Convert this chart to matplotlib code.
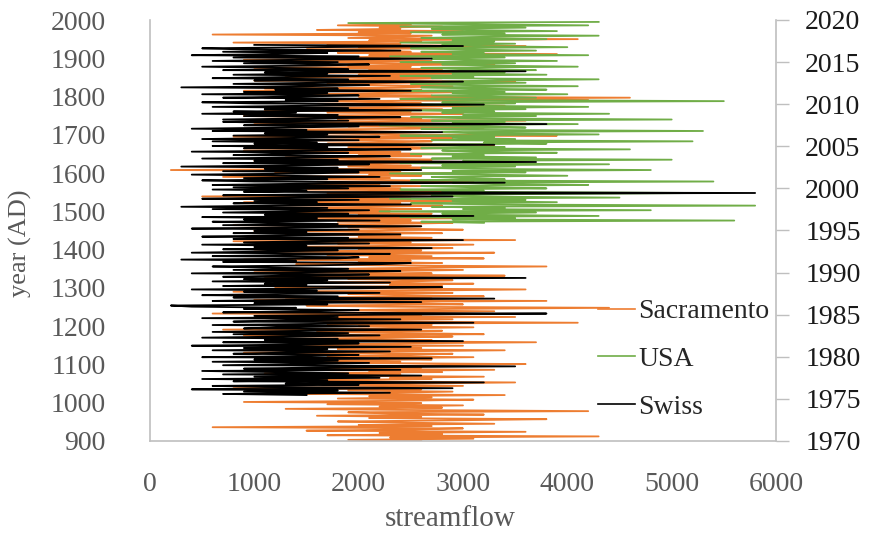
import numpy as np
import matplotlib
matplotlib.use("Agg")
import matplotlib.pyplot as plt

# ---------------- data (values read/estimated from the reference) ----------------
sac_start, sac_step = 900, 3
sacramento = [
    2600, 1900, 3100, 2300, 4300, 1700, 2800, 2200, 3600, 1500, 2500, 3000, 600, 2700, 2000, 3300, 2400, 1800, 2900, 3800,
    2100, 2600, 1600, 3200, 2300, 1900, 4200, 2500, 1300, 2800, 2200, 3000, 1700, 2600, 900, 2400, 3100, 1800, 2700, 2100,
    3400, 1500, 2300, 2900, 1900, 2600, 800, 2200, 3000, 1700, 2500, 3500, 2000, 1400, 2700, 2300, 3200, 1800, 2400, 1100,
    2800, 2100, 3300, 1600, 2600, 2000, 2900, 3600, 1900, 2400, 1200, 2700, 2200, 3100, 1700, 2500, 2900, 900, 2300, 3400,
    1800, 2600, 1100, 3000, 1500, 2400, 3700, 2000, 2700, 1300, 2300, 2900, 900, 3200, 2500, 1600, 2800, 700, 2200, 3100,
    2000, 2700, 1700, 4100, 2400, 1400, 2900, 1000, 3500, 1800, 2600, 600, 2300, 3300, 1900, 2800, 4400, 2200, 1500, 3000,
    2500, 1800, 3800, 1000, 2700, 1300, 3200, 2400, 1900, 2900, 800, 2600, 3600, 2000, 1200, 2800, 2300, 3100, 1600, 2500,
    2900, 1900, 2400, 1100, 3400, 2100, 2700, 1000, 2300, 3000, 1800, 2600, 3800, 2200, 1400, 2800, 2000, 2500, 900, 3200,
    2100, 2700, 1700, 2400, 3300, 1000, 2600, 2000, 2900, 1200, 2300, 3100, 1800, 2500, 800, 3500, 1600, 2700, 2000, 2400,
    1300, 2800, 2200, 1000, 3000, 2400, 1900, 2600, 800, 2300, 2900, 1800, 2500, 1100, 3200, 1600, 2400, 2000, 2700, 1400,
    2300, 1800, 2600, 1100, 2200, 2800, 1600, 2400, 900, 3000, 1400, 2500, 1900, 500, 2300, 2700, 1700, 2100, 2900, 1500,
    2400, 1000, 2700, 1200, 2200, 1800, 3100, 2500, 1600, 2300, 700, 2600, 2100, 2900, 1200, 2400, 200, 2000, 2800, 1900,
    2500, 1500, 2300, 3400, 1000, 2700, 2100, 1300, 2600, 2000, 3000, 1600, 2400, 900, 2200, 2800, 1900, 2500, 3300, 1700,
    2300, 2700, 1400, 2100, 2900, 800, 3900, 2400, 1600, 2600, 2000, 1100, 2500, 3200, 1900, 2300, 2800, 1000, 2200, 3600,
    1800, 2600, 2100, 900, 2400, 3000, 1700, 2500, 1100, 2800, 1400, 2300, 3400, 1900, 2600, 2200, 1600, 4200, 2400, 4600,
    2000, 2700, 1500, 2300, 3200, 900, 2600, 1100, 2400, 2900, 2100, 1700, 2500, 3500, 1000, 2300, 2800, 1300, 2600, 2000,
    3100, 1700, 2400, 2100, 2800, 1000, 2500, 1900, 3300, 2200, 1600, 2700, 900, 2400, 1400, 2900, 2100, 3900, 1800, 2500,
    2200, 1500, 2800, 2000, 3600, 1700, 2400, 800, 2600, 2100, 4100, 1900, 2300, 2700, 600, 2500, 2000, 3000, 1600, 2400,
    2200, 2800, 1800, 2500,
]

usa_start, usa_step = 1470, 3
usa = [
    3200, 2600, 5600, 2900, 3500, 2400, 4300, 3100, 2800, 3700, 2200, 4800, 3000, 3400, 2700, 5800, 3300, 2500, 3900, 2900,
    3600, 2300, 4500, 3000, 2700, 3500, 5300, 2800, 3200, 2400, 3800, 3100, 2600, 4200, 3300, 2900, 5400, 2500, 3400, 3000,
    2700, 4000, 3200, 2300, 3600, 2900, 4800, 3100, 2600, 3500, 2800, 4400, 2400, 3300, 3000, 5000, 2700, 3700, 2900, 3200,
    2500, 3900, 3100, 2800, 4600, 2600, 3400, 3000, 2300, 3800, 3200, 5200, 2700, 3500, 2900, 3300, 2400, 4300, 3100, 2800,
    5300, 3000, 2600, 3600, 3200, 2200, 4100, 2900, 3400, 2700, 5000, 3100, 2500, 3700, 3000, 4400, 2800, 3300, 2400, 3600,
    2900, 4200, 3100, 2600, 3500, 2800, 5500, 3000, 2400, 3700, 3200, 2700, 4000, 2900, 3400, 2300, 3800, 3100, 2600, 4100,
    3000, 2500, 3600, 2800, 3300, 4300, 2700, 3100, 2400, 3800, 2900, 3400, 2200, 3700, 3000, 2600, 4100, 3200, 2800, 3500,
    2400, 3900, 3000, 2700, 3400, 2300, 4200, 2900, 3200, 2600, 3700, 3000, 2500, 4000, 3100, 2800, 3500, 2400, 3300, 2900,
    3800, 2600, 3200, 4300, 2800, 3400, 2500, 3900, 3000, 2700, 3600, 2400, 4200, 3100, 1900, 4300,
]

swiss_start, swiss_step = 1020, 3
swiss = [
    1500, 700, 2300, 900, 1800, 400, 2900, 1100, 600, 2000, 1300, 3200, 800, 1700, 500, 2200, 1000, 2600, 700, 1900,
    1200, 500, 2400, 900, 1600, 3500, 700, 1400, 2100, 600, 1800, 1000, 2700, 500, 1500, 2000, 800, 1300, 2300, 600,
    1700, 900, 2500, 400, 1400, 2000, 700, 3000, 1100, 1800, 500, 1300, 2200, 800, 1900, 600, 1500, 2600, 900, 1200,
    2100, 600, 1600, 3100, 800, 1300, 2400, 500, 1800, 1000, 2200, 3800, 700, 1500, 2000, 900, 1400, 400, 200, 1700,
    1000, 2600, 600, 1400, 3300, 800, 1800, 500, 1200, 2200, 900, 1600, 400, 2000, 2800, 700, 1500, 1100, 2300, 600,
    1700, 900, 3600, 700, 1300, 2100, 400, 1500, 2400, 800, 1900, 1100, 600, 1600, 2200, 2500, 700, 1400, 300, 1800,
    2000, 600, 1300, 2300, 400, 1100, 1800, 700, 2700, 1000, 1500, 500, 2100, 900, 1600, 3000, 800, 1900, 500, 1200,
    2400, 800, 1500, 1000, 2000, 400, 1300, 2600, 700, 1800, 1100, 600, 2200, 900, 1600, 500, 3100, 1100, 1900, 700,
    1400, 2100, 600, 1700, 300, 1200, 2500, 800, 1600, 1000, 2000, 500, 1300, 2900, 700, 1700, 5800, 900, 1500, 600,
    1900, 800, 2300, 600, 1400, 3400, 1000, 500, 1700, 900, 2200, 1300, 400, 1500, 2000, 700, 2600, 1100, 1800, 300,
    1400, 2100, 700, 3700, 1000, 1800, 500, 1500, 2300, 800, 1200, 1900, 400, 1600, 2500, 900, 1700, 600, 3300, 1000,
    1600, 600, 2000, 500, 1400, 2200, 800, 1700, 1100, 2800, 600, 1500, 400, 1300, 2000, 900, 3800, 1200, 700, 1900,
    700, 1600, 2400, 900, 1800, 500, 1400, 800, 2600, 1100, 1900, 600, 1500, 3200, 1000, 500, 1800, 1300, 2200, 700,
    1400, 2000, 500, 1700, 900, 2500, 1200, 1800, 300, 1500, 2100, 800, 1600, 3000, 1000, 1900, 600, 1300, 2300, 800,
    1700, 1100, 3600, 700, 1900, 1200, 500, 1600, 2100, 900, 1800, 600, 1400, 2700, 800, 2000, 400, 1200, 1700, 700,
    2400, 900, 500, 1600, 3000, 1000,
]

series_names = ["Sacramento", "USA", "Swiss"]
left_ticks = list(range(900, 2001, 100))
right_ticks = list(range(1970, 2021, 5))
x_ticks = list(range(0, 6001, 1000))

# ---------------- styling ----------------
plt.rcParams['font.family'] = ['Liberation Serif', 'DejaVu Serif']
colors = {"Sacramento": "#ED7D31", "USA": "#70AD47", "Swiss": "#000000"}
gray_txt = "#595959"
spine_col = "#BFBFBF"

fig = plt.figure(figsize=(8.81, 5.41), dpi=100)
ax = fig.add_axes([150/881, 100/541, (776-150)/881, (441-20)/541])

def years(start, step, vals):
    return start + step*np.arange(len(vals))

lines = []
for name, start, step, vals in [("Sacramento", sac_start, sac_step, sacramento),
                                ("USA", usa_start, usa_step, usa),
                                ("Swiss", swiss_start, swiss_step, swiss)]:
    ln, = ax.plot(vals, years(start, step, vals), color=colors[name], lw=1.3,
                  label=name)
    lines.append(ln)

ax.set_xlim(0, 6000)
ax.set_ylim(900, 2000)
ax.set_xticks(x_ticks)
ax.set_yticks(left_ticks)
ax.tick_params(axis='both', length=0, labelsize=20, colors=gray_txt)
ax.tick_params(axis='x', pad=22)
ax.tick_params(axis='y', pad=32)
ax.set_xlabel("streamflow", fontsize=21, color=gray_txt)
ax.xaxis.set_label_coords(0.479, -0.155)
ax.set_ylabel("year (AD)", fontsize=19, color=gray_txt)
ax.yaxis.set_label_coords(-0.188, 0.47)
for s in ["top", "right"]:
    ax.spines[s].set_visible(False)
for s in ["left", "bottom"]:
    ax.spines[s].set_color(spine_col)
    ax.spines[s].set_linewidth(1.2)

ax2 = ax.twinx()
ax2.set_ylim(1970, 2020)
ax2.set_yticks(right_ticks)
ax2.tick_params(axis='y', length=9, width=1, color=spine_col, labelsize=20,
                labelcolor="#1a1a1a", pad=12)
for s in ["top", "left", "bottom"]:
    ax2.spines[s].set_visible(False)
ax2.spines["right"].set_color(spine_col)
ax2.spines["right"].set_linewidth(1.2)

leg = ax.legend(handles=lines, loc='upper left', bbox_to_anchor=(598/881, (541-299)/541),
                bbox_transform=fig.transFigure,
                frameon=False, fontsize=20, handlelength=1.33, handletextpad=0.12,
                labelspacing=0.8, borderpad=0, borderaxespad=0)
for ln in leg.get_lines():
    ln.set_linewidth(1.2)
for t in leg.get_texts():
    t.set_color("#262626")

fig.savefig("out.png", dpi=100)
